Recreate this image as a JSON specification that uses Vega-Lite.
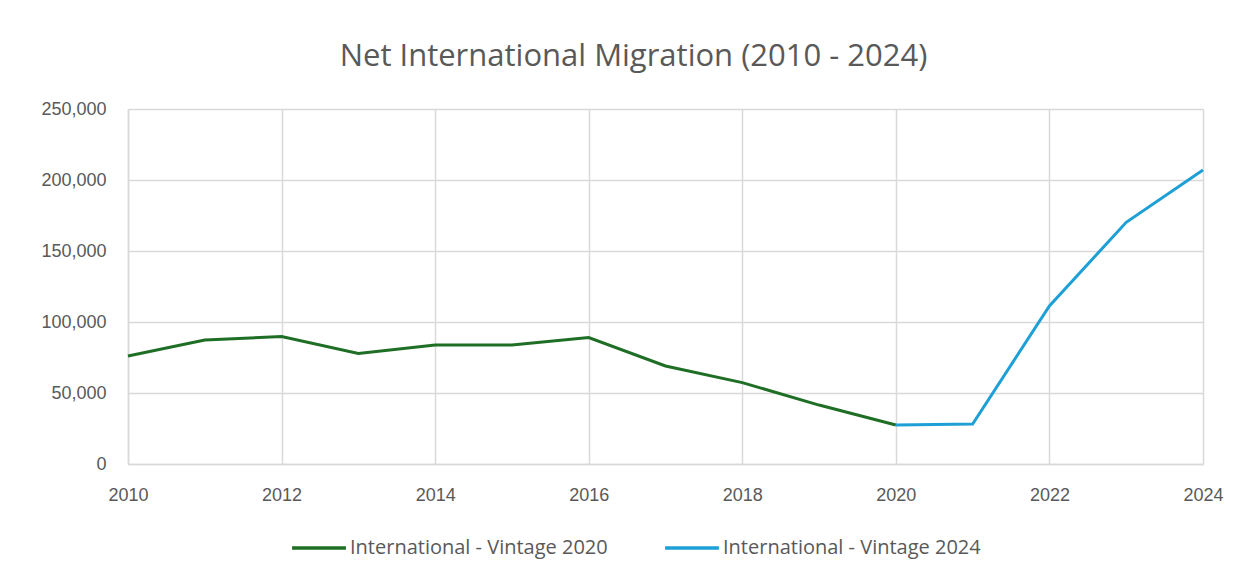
{
  "$schema": "https://vega.github.io/schema/vega-lite/v6.json",
  "width": 1075,
  "height": 355,
  "autosize": {"type": "none"},
  "padding": {"left": 128, "top": 109, "right": 46, "bottom": 116},
  "background": "white",
  "title": {
    "text": "Net International Migration (2010 - 2024)",
    "font": "Open Sans",
    "fontSize": 31,
    "fontWeight": "normal",
    "color": "#595959",
    "anchor": "middle",
    "dx": -32,
    "offset": 27
  },
  "config": {
    "view": {"stroke": null},
    "axis": {
      "gridColor": "#d9d9d9",
      "gridWidth": 1.5,
      "domainColor": "#d9d9d9",
      "domainWidth": 1.5,
      "ticks": false,
      "labelColor": "#595959",
      "labelFont": "Liberation Sans",
      "labelFontSize": 18
    }
  },
  "data": {
    "values": [
      {"year": 2010, "value": 76100, "series": "International - Vintage 2020"},
      {"year": 2011, "value": 87300, "series": "International - Vintage 2020"},
      {"year": 2012, "value": 89700, "series": "International - Vintage 2020"},
      {"year": 2013, "value": 77900, "series": "International - Vintage 2020"},
      {"year": 2014, "value": 83800, "series": "International - Vintage 2020"},
      {"year": 2015, "value": 83800, "series": "International - Vintage 2020"},
      {"year": 2016, "value": 89000, "series": "International - Vintage 2020"},
      {"year": 2017, "value": 69000, "series": "International - Vintage 2020"},
      {"year": 2018, "value": 57300, "series": "International - Vintage 2020"},
      {"year": 2019, "value": 41500, "series": "International - Vintage 2020"},
      {"year": 2020, "value": 27500, "series": "International - Vintage 2020"},
      {"year": 2020, "value": 27500, "series": "International - Vintage 2024"},
      {"year": 2021, "value": 28200, "series": "International - Vintage 2024"},
      {"year": 2022, "value": 111300, "series": "International - Vintage 2024"},
      {"year": 2023, "value": 170200, "series": "International - Vintage 2024"},
      {"year": 2024, "value": 207000, "series": "International - Vintage 2024"}
    ]
  },
  "mark": {"type": "line", "strokeWidth": 3},
  "encoding": {
    "x": {
      "field": "year",
      "type": "quantitative",
      "scale": {"domain": [2010, 2024], "nice": false, "zero": false},
      "axis": {
        "title": null,
        "values": [2010, 2012, 2014, 2016, 2018, 2020, 2022, 2024],
        "format": "d",
        "labelPadding": 22,
        "labelFlush": false
      }
    },
    "y": {
      "field": "value",
      "type": "quantitative",
      "scale": {"domain": [0, 250000], "nice": false},
      "axis": {
        "title": null,
        "values": [0, 50000, 100000, 150000, 200000, 250000],
        "format": ",d",
        "labelPadding": 22
      }
    },
    "color": {
      "field": "series",
      "type": "nominal",
      "scale": {
        "domain": ["International - Vintage 2020", "International - Vintage 2024"],
        "range": ["#1f6e25", "#1ea0d6"]
      },
      "legend": {
        "title": null,
        "orient": "none",
        "direction": "horizontal",
        "legendX": 162,
        "legendY": 410,
        "symbolType": "stroke",
        "symbolSize": 2900,
        "symbolStrokeWidth": 3.5,
        "labelFont": "Open Sans",
        "labelFontSize": 20,
        "labelColor": "#595959",
        "labelOffset": 2,
        "columnPadding": 50,
        "labelLimit": 400
      }
    }
  }
}
